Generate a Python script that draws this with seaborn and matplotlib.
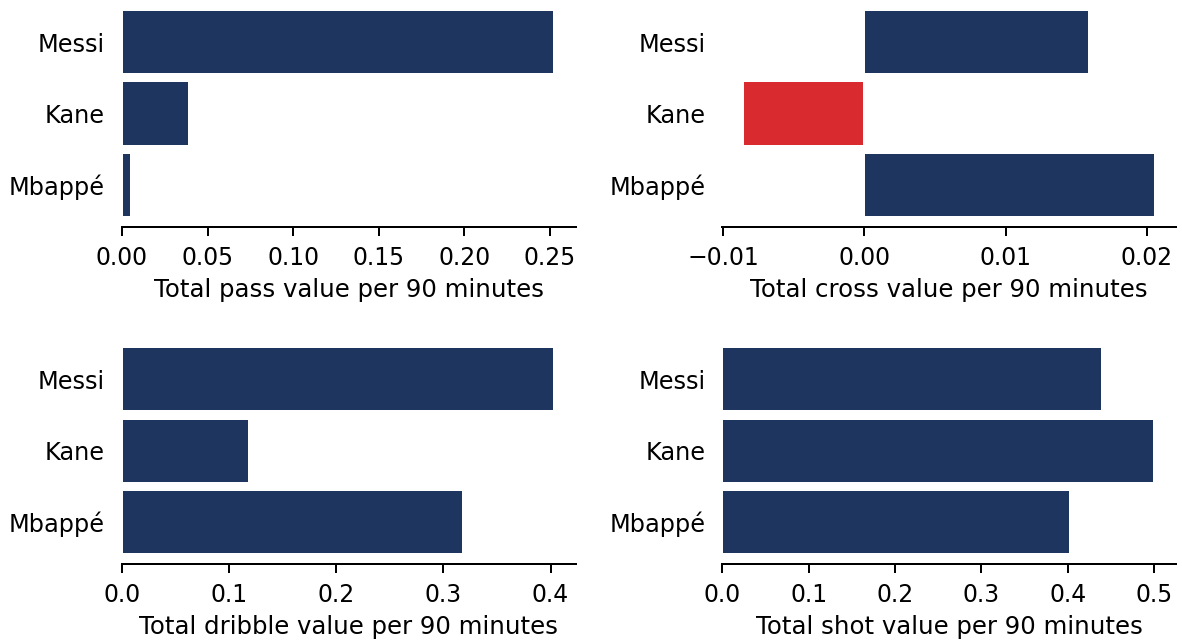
import matplotlib
matplotlib.use("Agg")
import matplotlib.pyplot as plt
import seaborn as sns
import pandas as pd

players = ["Messi", "Kane", "Mbappé"]
pass_value = [0.2523, 0.0394, 0.0052]
cross_value = [0.0159, -0.0086, 0.0206]
dribble_value = [0.4031, 0.119, 0.318]
shot_value = [0.440, 0.5004, 0.403]

panels = [
    ("pass", pass_value),
    ("cross", cross_value),
    ("dribble", dribble_value),
    ("shot", shot_value),
]

navy = "#1e355f"
red = "#d82a2f"

sns.set_theme(style="white", context="poster")
plt.rcParams["font.family"] = ["DejaVu Sans"]
plt.rcParams["text.color"] = "black"
plt.rcParams["axes.labelcolor"] = "black"
plt.rcParams["xtick.color"] = "black"
plt.rcParams["ytick.color"] = "black"

fig, axes = plt.subplots(2, 2, figsize=(1182 / 72, 641 / 72), dpi=72,
                         gridspec_kw={"wspace": 0.324, "hspace": 0.485})
fig.subplots_adjust(left=0.1032, right=0.9949, top=1.0, bottom=0.1201)

for ax, (kind, vals) in zip(axes.flat, panels):
    df = pd.DataFrame({"player": players, "value": vals})
    pal = {p: (red if v < 0 else navy) for p, v in zip(players, vals)}
    sns.barplot(data=df, x="value", y="player", hue="player", palette=pal,
                orient="h", width=0.9, saturation=1, legend=False, ax=ax)
    # same padding as a plain matplotlib barh
    ax.set_ylim(2.595, -0.595)
    ax.set_ylabel("")
    ax.set_xlabel(f"Total {kind} value per 90 minutes", fontsize=24.4,
                  labelpad=8, color="black")
    ax.tick_params(axis="x", labelsize=23.5, length=9, width=2, pad=10,
                   bottom=True, color="black", labelcolor="black")
    ax.tick_params(axis="y", labelsize=24, length=0, pad=17, labelcolor="black")
    sns.despine(ax=ax, left=True)
    ax.spines["bottom"].set_linewidth(2)
    ax.spines["bottom"].set_color("black")

fig.savefig("out.png", dpi=72)
